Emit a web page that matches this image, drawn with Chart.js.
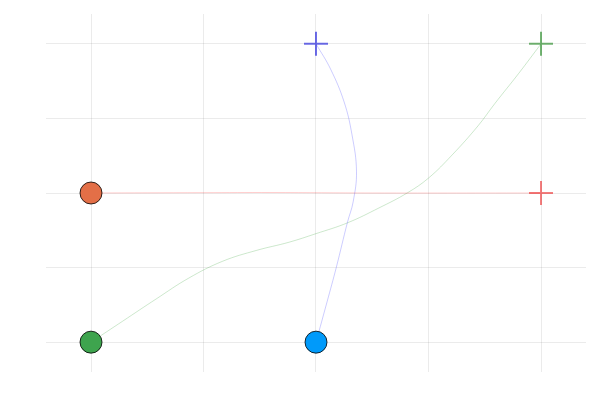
<!DOCTYPE html>
<html>
<head>
<meta charset="utf-8">
<script src="https://cdn.jsdelivr.net/npm/chart.js@4"></script>
<style>
  body { margin: 0; background: #fff; }
</style>
</head>
<body>
<canvas id="curveChart" width="600" height="400"></canvas>
<script>
const xTicks = [0, 1, 2, 3, 4];
const yTicks = [0, 1, 2, 3, 4];

const redX = [0, 1.0, 1.6, 2.5, 4];
const redY = [2, 2.004, 2.006, 2.0, 2];

const blueX = [2, 2.10, 2.18, 2.28, 2.33, 2.36, 2.32, 2.25, 2.13, 2];
const blueY = [0, 0.55, 1.0, 1.61, 1.88, 2.29, 2.78, 3.22, 3.66, 4];

const greenX = [0, 0.28, 0.58, 0.87, 1.17, 1.47, 1.76, 2.0, 2.28, 2.56, 2.81, 3.0, 3.21, 3.44, 3.59, 3.80, 4];
const greenY = [0, 0.28, 0.58, 0.86, 1.085, 1.23, 1.34, 1.455, 1.6, 1.8, 2.0, 2.2, 2.51, 2.9, 3.2, 3.6, 4];

const toPoints = (xs, ys) => xs.map((x, i) => ({ x: x, y: ys[i] }));

const series = [
    { xs: redX, ys: redY, line: 'rgba(255, 0, 0, 0.2)', fill: '#E36F47', cross: 'rgba(235, 40, 40, 0.6)' },
    { xs: blueX, ys: blueY, line: 'rgba(0, 0, 255, 0.2)', fill: '#009AFA', cross: 'rgba(30, 30, 220, 0.65)' },
    { xs: greenX, ys: greenY, line: 'rgba(0, 140, 0, 0.2)', fill: '#3EA44E', cross: 'rgba(40, 140, 40, 0.65)' }
];

const datasets = [];
series.forEach(s => {
    const pts = toPoints(s.xs, s.ys);
    datasets.push({
        data: pts,
        showLine: true,
        borderColor: s.line,
        borderWidth: 1,
        tension: 0.4,
        pointRadius: 0,
        order: 2
    });
    datasets.push({
        data: [pts[0]],
        pointStyle: 'circle',
        pointRadius: 11,
        backgroundColor: s.fill,
        borderColor: 'rgba(0, 0, 0, 0.8)',
        borderWidth: 1,
        order: 1
    });
    datasets.push({
        data: [pts[pts.length - 1]],
        pointStyle: 'cross',
        pointRadius: 12,
        borderColor: s.cross,
        borderWidth: 2,
        order: 1
    });
});

const ctx = document.getElementById('curveChart').getContext('2d');
new Chart(ctx, {
    type: 'scatter',
    data: { datasets: datasets },
    options: {
        responsive: false,
        animation: false,
        layout: { padding: { left: 46, right: 10, top: 11, bottom: 28 } },
        plugins: { legend: { display: false }, tooltip: { enabled: false } },
        scales: {
            x: {
                min: -0.4,
                max: 4.4,
                afterBuildTicks: axis => { axis.ticks = xTicks.map(v => ({ value: v })); },
                ticks: { display: false },
                grid: { color: 'rgba(0, 0, 0, 0.08)', drawTicks: false },
                border: { display: false }
            },
            y: {
                min: -0.4,
                max: 4.4,
                afterBuildTicks: axis => { axis.ticks = yTicks.map(v => ({ value: v })); },
                ticks: { display: false },
                grid: { color: 'rgba(0, 0, 0, 0.08)', drawTicks: false },
                border: { display: false }
            }
        }
    }
});
</script>
</body>
</html>
